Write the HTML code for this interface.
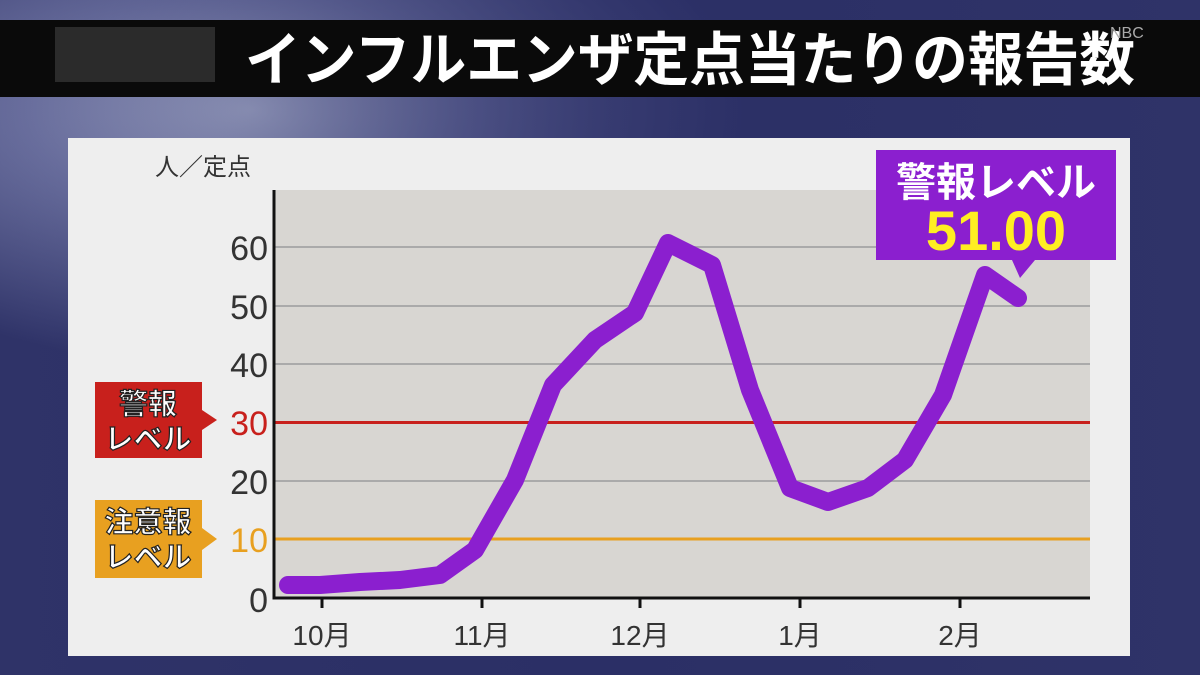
<!DOCTYPE html>
<html><head><meta charset="utf-8"><style>
body{margin:0;width:1200px;height:675px;overflow:hidden;background:radial-gradient(ellipse 500px 260px at 250px 110px,#a4aac8 0%,#6a6f9e 45%,#2f3368 100%);font-family:"Liberation Sans","Noto Sans CJK JP",sans-serif;}
#bg{position:absolute;left:0;top:0;width:1200px;height:675px;background:linear-gradient(90deg,rgba(0,0,0,0) 0%,rgba(40,44,100,0.6) 50%,#2f3368 100%);}
</style></head><body>
<div id="bg"></div>
<svg width="1200" height="675" style="position:absolute;left:0;top:0" font-family="Liberation Sans, Noto Sans CJK JP, sans-serif">
<rect x="0" y="20" width="1200" height="77" fill="#0a0a0a"/>
<rect x="55" y="27" width="160" height="55" fill="#333" opacity="0.8"/>
<text x="690" y="80" font-size="58" font-weight="bold" fill="#fff" text-anchor="middle" textLength="890" lengthAdjust="spacingAndGlyphs">インフルエンザ定点当たりの報告数</text>
<text x="1110" y="38" font-size="16" fill="#aaa">NBC</text>
<rect x="68" y="138" width="1062" height="518" fill="#eeeeee"/>
<rect x="274" y="190" width="816" height="408" fill="#d8d6d2"/>
<g stroke="#aaa" stroke-width="2">
<line x1="274" y1="247" x2="1090" y2="247"/><line x1="274" y1="306" x2="1090" y2="306"/><line x1="274" y1="364" x2="1090" y2="364"/><line x1="274" y1="481" x2="1090" y2="481"/></g>
<line x1="274" y1="422.5" x2="1090" y2="422.5" stroke="#c8201c" stroke-width="3"/>
<line x1="274" y1="539" x2="1090" y2="539" stroke="#e8a020" stroke-width="3"/>
<path d="M274 190V598H1090" fill="none" stroke="#111" stroke-width="3"/>
<g stroke="#111" stroke-width="3"><line x1="322" y1="598" x2="322" y2="608"/><line x1="482" y1="598" x2="482" y2="608"/><line x1="640" y1="598" x2="640" y2="608"/><line x1="800" y1="598" x2="800" y2="608"/><line x1="960" y1="598" x2="960" y2="608"/></g>
<g font-size="34" fill="#333" text-anchor="end">
<text x="268" y="260">60</text><text x="268" y="319">50</text><text x="268" y="377">40</text><text x="268" y="435" fill="#c8201c">30</text><text x="268" y="494">20</text><text x="268" y="552" fill="#e8a020">10</text><text x="268" y="612">0</text></g>
<g font-size="28" fill="#333" text-anchor="middle"><text x="322" y="645">10月</text><text x="482" y="645">11月</text><text x="640" y="645">12月</text><text x="800" y="645">1月</text><text x="960" y="645">2月</text></g>
<text x="155" y="175" font-size="24" fill="#333">人／定点</text>
<polyline points="288,585 320,585 360,582 400,580 440,575 475,550 515,480 553,385 595,340 635,313 668,243 712,265 750,390 790,488 828,502 868,488 905,460 943,395 985,275 1018,298" fill="none" stroke="#8b1fcf" stroke-width="18" stroke-linejoin="round" stroke-linecap="round"/>
<path d="M95 382H202V410L217 420L202 430V458H95Z" fill="#c8201c"/>
<path d="M95 500H202V528L217 539L202 550V578H95Z" fill="#e8a020"/>
<g font-size="29" font-weight="bold" fill="#fff" stroke="#222" stroke-width="1.2" text-anchor="middle">
<text x="148" y="414">警報</text><text x="148" y="449">レベル</text>
<text x="148" y="532">注意報</text><text x="148" y="567">レベル</text></g>
<path d="M876 150H1116V260H1035L1020 278L1012 260H876Z" fill="#8b1fcf"/>
<text x="996" y="196" font-size="40" font-weight="bold" fill="#fff" text-anchor="middle">警報レベル</text>
<text x="996" y="250" font-size="56" font-weight="bold" fill="#ffee22" text-anchor="middle">51.00</text>
</svg>
</body></html>
